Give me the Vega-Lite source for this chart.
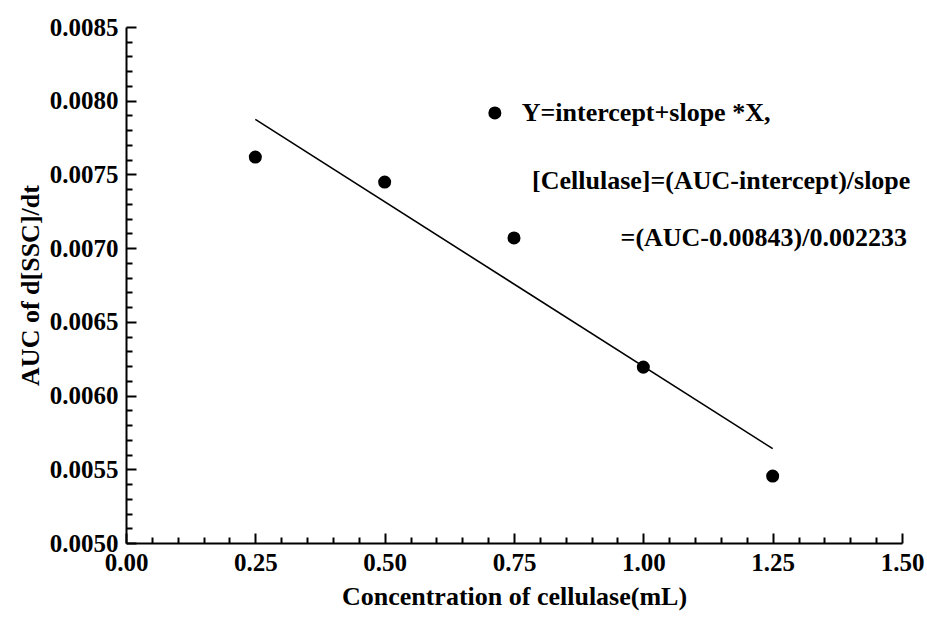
{
  "$schema": "https://vega.github.io/schema/vega-lite/v6.json",
  "width": 776,
  "height": 516,
  "autosize": {"type": "none"},
  "padding": {"left": 126, "top": 27, "right": 25, "bottom": 75},
  "background": "white",
  "config": {
    "view": {"stroke": null},
    "font": "Times New Roman, Liberation Serif, serif",
    "axis": {
      "domainColor": "black",
      "domainWidth": 2,
      "tickColor": "black",
      "tickWidth": 2,
      "labelColor": "black",
      "titleColor": "black",
      "labelFont": "Times New Roman, Liberation Serif, serif",
      "titleFont": "Times New Roman, Liberation Serif, serif",
      "labelFontWeight": "bold",
      "titleFontWeight": "bold",
      "labelFontSize": 25,
      "titleFontSize": 26,
      "grid": false
    }
  },
  "datasets": {
    "pts": [
      {"conc": 0.25, "auc": 0.007618},
      {"conc": 0.5, "auc": 0.007448},
      {"conc": 0.75, "auc": 0.007069},
      {"conc": 1.0, "auc": 0.006193},
      {"conc": 1.25, "auc": 0.005454}
    ],
    "legend": [
      {"conc": 0.713, "auc": 0.007917}
    ],
    "notes": [
      {"conc": 0.765, "auc": 0.007917, "label": "Y=intercept+slope *X,"},
      {"conc": 0.785, "auc": 0.007455, "label": "[Cellulase]=(AUC-intercept)/slope"},
      {"conc": 0.956, "auc": 0.007069, "label": "=(AUC-0.00843)/0.002233"}
    ]
  },
  "layer": [
    {
      "data": {"name": "pts"},
      "mark": {"type": "point", "filled": true, "color": "black", "opacity": 1, "size": 170},
      "encoding": {
        "x": {
          "field": "conc", "type": "quantitative",
          "scale": {"domain": [0, 1.5], "nice": false, "zero": false},
          "axis": {
            "title": "Concentration of cellulase(mL)",
            "values": [0, 0.25, 0.5, 0.75, 1.0, 1.25, 1.5],
            "format": ".2f",
            "tickSize": -10,
            "labelPadding": 17,
            "titlePadding": 8,
            "labelFlush": false,
            "labelOverlap": false
          }
        },
        "y": {
          "field": "auc", "type": "quantitative",
          "scale": {"domain": [0.005, 0.0085], "nice": false, "zero": false},
          "axis": {
            "title": "AUC of d[SSC]/dt",
            "values": [0.005, 0.0055, 0.006, 0.0065, 0.007, 0.0075, 0.008, 0.0085],
            "format": ".4f",
            "tickSize": -10,
            "labelPadding": 18,
            "titlePadding": 6,
            "labelFlush": false,
            "labelOverlap": false
          }
        }
      }
    },
    {
      "data": {"name": "pts"},
      "transform": [{"regression": "auc", "on": "conc"}],
      "mark": {"type": "line", "color": "black", "strokeWidth": 1.6},
      "encoding": {
        "x": {
          "field": "conc", "type": "quantitative",
          "axis": {
            "orient": "bottom",
            "title": null,
            "labels": false,
            "domain": false,
            "values": [0.05, 0.1, 0.15, 0.2, 0.3, 0.35, 0.4, 0.45, 0.55, 0.6, 0.65, 0.7, 0.8, 0.85, 0.9, 0.95, 1.05, 1.1, 1.15, 1.2, 1.3, 1.35, 1.4, 1.45],
            "tickSize": -6
          }
        },
        "y": {
          "field": "auc", "type": "quantitative",
          "axis": {
            "orient": "left",
            "title": null,
            "labels": false,
            "domain": false,
            "values": [0.0051, 0.0052, 0.0053, 0.0054, 0.0056, 0.0057, 0.0058, 0.0059, 0.0061, 0.0062, 0.0063, 0.0064, 0.0066, 0.0067, 0.0068, 0.0069, 0.0071, 0.0072, 0.0073, 0.0074, 0.0076, 0.0077, 0.0078, 0.0079, 0.0081, 0.0082, 0.0083, 0.0084],
            "tickSize": -6
          }
        }
      }
    },
    {
      "data": {"name": "legend"},
      "mark": {"type": "point", "filled": true, "color": "black", "opacity": 1, "size": 170},
      "encoding": {
        "x": {"field": "conc", "type": "quantitative", "axis": null},
        "y": {"field": "auc", "type": "quantitative", "axis": null}
      }
    },
    {
      "data": {"name": "notes"},
      "mark": {"type": "text", "align": "left", "baseline": "middle", "font": "Times New Roman, Liberation Serif, serif", "fontWeight": "bold", "fontSize": 26, "color": "black"},
      "encoding": {
        "x": {"field": "conc", "type": "quantitative", "axis": null},
        "y": {"field": "auc", "type": "quantitative", "axis": null},
        "text": {"field": "label"}
      }
    }
  ],
  "resolve": {"axis": {"x": "independent", "y": "independent"}}
}
